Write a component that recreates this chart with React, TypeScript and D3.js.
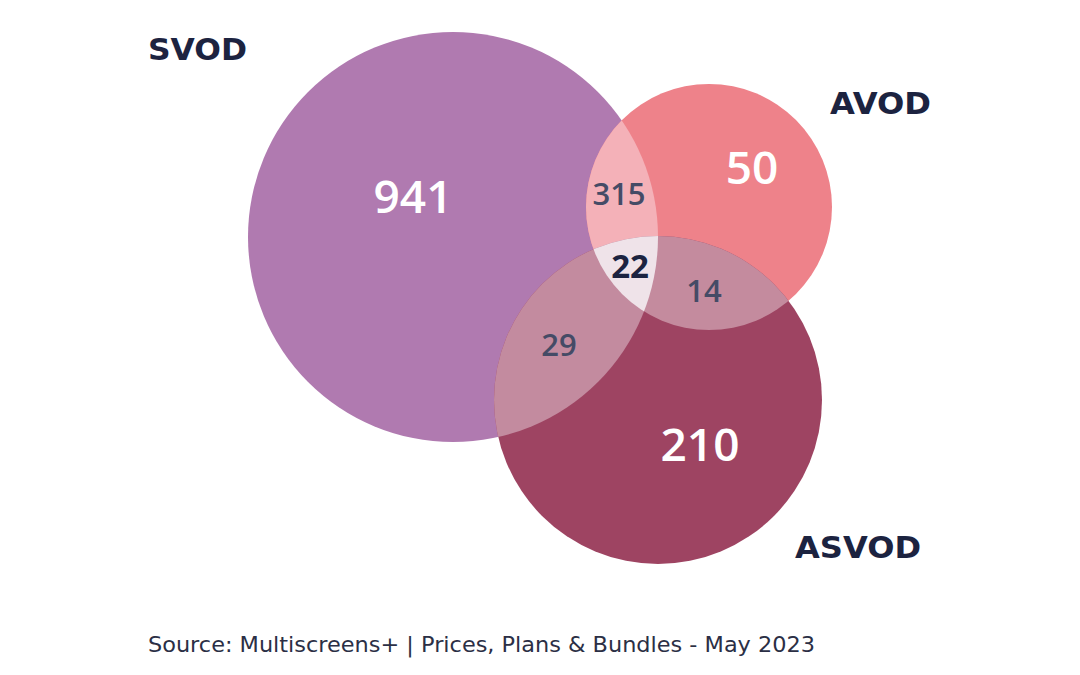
import React from "react";
import * as d3 from "d3";

const setNames = ["SVOD", "AVOD", "ASVOD"];
const setColors = ["#B07AB0", "#EE828A", "#9E4462"];
const onlyValues = [941, 50, 210];
const pairKeys = ["SVOD&AVOD", "SVOD&ASVOD", "AVOD&ASVOD"];
const pairValues = [315, 29, 14];
const pairColors = ["#F4B1B8", "#C38B9F", "#C48B9E"];
const tripleValue = 22;
const source = "Source: Multiscreens+ | Prices, Plans & Bundles - May 2023";

// layout (pixels)
const circles = [
  { cx: 453, cy: 237, r: 205 },
  { cx: 709, cy: 207, r: 123 },
  { cx: 658, cy: 400, r: 164 },
];
const onlyPos = [[413, 195], [752, 166], [700, 443]];
const pairPos = [[619, 193], [559, 344], [704, 290]];
const triplePos = [630, 265];
const labelPos = [[148, 60, "start", 99], [931, 114, "end", 101], [921, 558, "end", 126]];

export default function App() {
  const fmt = d3.format("d");
  const circ = (c: any) => {
    const p = d3.path();
    p.arc(c.cx, c.cy, c.r, 0, Math.PI * 2);
    p.closePath();
    return p.toString();
  };
  const pairIdx = [[0, 1], [0, 2], [1, 2]];
  const numFont = "'Open Sans', sans-serif";
  return (
    <svg width={1080} height={675} style={{ display: "block", position: "absolute", left: 0, top: 0, background: "#fff" }}>
      <defs>
        {circles.map((c, i) => (
          <clipPath id={`clip${i}`} key={i}>
            <path d={circ(c)} />
          </clipPath>
        ))}
      </defs>
      <rect width={1080} height={675} fill="#fff" />
      {circles.map((c, i) => (
        <path key={i} d={circ(c)} fill={setColors[i]} />
      ))}
      {pairIdx.map(([a, b], k) => (
        <g key={k} clipPath={`url(#clip${a})`}>
          <path d={circ(circles[b])} fill={pairColors[k]} />
        </g>
      ))}
      <g clipPath="url(#clip0)">
        <g clipPath="url(#clip1)">
          <path d={circ(circles[2])} fill="#EFE3E9" />
        </g>
      </g>
      {onlyValues.map((v, i) => (
        <text key={i} x={onlyPos[i][0]} y={onlyPos[i][1]} textAnchor="middle" dominantBaseline="central"
          fill="#fff" fontFamily={numFont} fontSize={46} fontWeight={600}>{fmt(v)}</text>
      ))}
      {pairValues.map((v, i) => (
        <text key={i} x={pairPos[i][0]} y={pairPos[i][1]} textAnchor="middle" dominantBaseline="central"
          fill="#454B66" fontFamily={numFont} fontSize={31} fontWeight={600}>{fmt(v)}</text>
      ))}
      <text x={triplePos[0]} y={triplePos[1]} textAnchor="middle" dominantBaseline="central"
        fill="#1C2340" fontFamily={numFont} fontSize={33} fontWeight={700}>{fmt(tripleValue)}</text>
      {setNames.map((n, i) => (
        <text key={n} x={labelPos[i][0] as number} y={labelPos[i][1] as number} textAnchor={labelPos[i][2] as any}
          textLength={labelPos[i][3] as number} lengthAdjust="spacingAndGlyphs"
          fill="#1C2340" fontFamily="'DejaVu Sans', sans-serif" fontSize={31} fontWeight={700}>{n}</text>
      ))}
      <text x={148} y={652} fill="#2B2F45" fontFamily="'DejaVu Sans', sans-serif" fontSize={21.5}
        textLength={667} lengthAdjust="spacingAndGlyphs">{source}</text>
    </svg>
  );
}
